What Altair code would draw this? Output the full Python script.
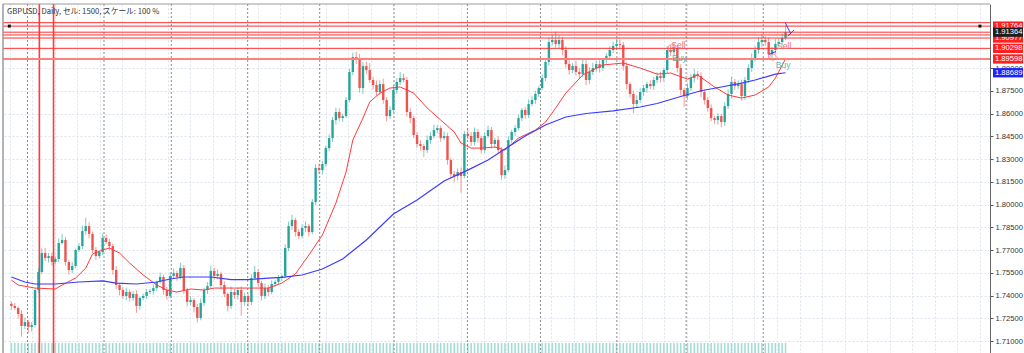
import altair as alt
import pandas as pd

# ---------------- data ----------------
first_open = 1.7345
close = [
    1.7331, 1.7318, 1.7278, 1.7199, 1.7225, 1.7192, 1.7205, 1.7436, 1.7555, 1.7680,
    1.7647, 1.7660, 1.7621, 1.7641, 1.7746, 1.7766, 1.7621, 1.7568, 1.7595, 1.7700,
    1.7726, 1.7825, 1.7858, 1.7806, 1.7700, 1.7660, 1.7687, 1.7779, 1.7753, 1.7726,
    1.7568, 1.7469, 1.7436, 1.7397, 1.7423, 1.7384, 1.7410, 1.7331, 1.7384, 1.7397,
    1.7423, 1.7430, 1.7449, 1.7489, 1.7522, 1.7436, 1.7397, 1.7529, 1.7548, 1.7522,
    1.7581, 1.7436, 1.7357, 1.7370, 1.7324, 1.7252, 1.7351, 1.7436, 1.7463, 1.7562,
    1.7529, 1.7542, 1.7469, 1.7410, 1.7331, 1.7423, 1.7403, 1.7436, 1.7357, 1.7397,
    1.7357, 1.7515, 1.7555, 1.7482, 1.7397, 1.7449, 1.7423, 1.7476, 1.7489, 1.7515,
    1.7529, 1.7713, 1.7858, 1.7898, 1.7819, 1.7792, 1.7845, 1.7858, 1.7819, 1.8016,
    1.8241, 1.8227, 1.8267, 1.8372, 1.8438, 1.8557, 1.8610, 1.8570, 1.8583, 1.8689,
    1.8874, 1.8972, 1.8953, 1.8768, 1.8913, 1.8887, 1.8821, 1.8788, 1.8742, 1.8794,
    1.8689, 1.8583, 1.8623, 1.8755, 1.8808, 1.8834, 1.8821, 1.8610, 1.8570, 1.8458,
    1.8399, 1.8386, 1.8359, 1.8425, 1.8452, 1.8491, 1.8504, 1.8438, 1.8452, 1.8293,
    1.8201, 1.8188, 1.8214, 1.8188, 1.8465, 1.8452, 1.8412, 1.8478, 1.8438, 1.8359,
    1.8452, 1.8491, 1.8399, 1.8425, 1.8359, 1.8194, 1.8227, 1.8425, 1.8478, 1.8504,
    1.8570, 1.8623, 1.8590, 1.8663, 1.8689, 1.8729, 1.8768, 1.8834, 1.8940, 1.9071,
    1.9085, 1.9058, 1.9085, 1.9019, 1.8926, 1.8887, 1.8913, 1.8874, 1.8860, 1.8926,
    1.8821, 1.8874, 1.8900, 1.8926, 1.8900, 1.8953, 1.8979, 1.9019, 1.9045, 1.9058,
    1.9052, 1.8913, 1.8794, 1.8729, 1.8663, 1.8689, 1.8742, 1.8768, 1.8794, 1.8781,
    1.8821, 1.8847, 1.8834, 1.8887, 1.9019, 1.9005, 1.9032, 1.8900, 1.8755, 1.8715,
    1.8768, 1.8834, 1.8860, 1.8847, 1.8742, 1.8689, 1.8636, 1.8570, 1.8557, 1.8583,
    1.8544, 1.8649, 1.8729, 1.8808, 1.8781, 1.8794, 1.8715, 1.8821, 1.8900, 1.8966,
    1.9019, 1.9071, 1.9085, 1.9071, 1.8992, 1.9019, 1.9058, 1.9071, 1.9098, 1.91364,
]
# wick lengths above / below the body, in pips
up_wick = [
    15, 20, 10, 25, 30, 15, 20, 10, 25, 30,
    35, 20, 25, 15, 30, 40, 20, 15, 25, 10,
    20, 35, 55, 25, 15, 20, 10, 30, 25, 20,
    15, 25, 10, 20, 30, 15, 20, 25, 10, 15,
    20, 15, 25, 10, 30, 15, 20, 25, 30, 15,
    35, 20, 15, 25, 10, 20, 30, 15, 25, 35,
    20, 30, 15, 25, 10, 35, 20, 15, 25, 20,
    15, 25, 40, 20, 15, 30, 20, 25, 15, 20,
    10, 25, 30, 35, 15, 20, 25, 30, 15, 20,
    25, 30, 20, 15, 25, 20, 30, 25, 15, 20,
    20, 30, 35, 40, 25, 30, 45, 20, 30, 25,
    35, 20, 25, 30, 25, 40, 30, 20, 25, 15,
    20, 25, 15, 30, 25, 35, 20, 15, 30, 20,
    15, 20, 25, 30, 20, 35, 25, 30, 20, 15,
    25, 30, 20, 15, 25, 20, 30, 25, 15, 20,
    25, 15, 20, 30, 25, 20, 15, 25, 20, 30,
    35, 55, 30, 20, 25, 30, 20, 35, 25, 30,
    25, 30, 35, 20, 25, 15, 20, 25, 30, 35,
    30, 20, 25, 15, 20, 30, 25, 20, 15, 25,
    20, 25, 30, 15, 25, 30, 35, 20, 25, 15,
    30, 25, 35, 20, 25, 15, 20, 25, 15, 20,
    15, 25, 30, 35, 20, 25, 30, 20, 25, 30,
    25, 35, 40, 25, 30, 20, 35, 25, 30, 45,
]
dn_wick = [
    25, 15, 30, 70, 20, 40, 30, 15, 20, 15,
    20, 30, 25, 15, 20, 10, 25, 30, 20, 15,
    15, 20, 25, 30, 20, 25, 15, 20, 15, 25,
    30, 25, 35, 20, 30, 25, 20, 45, 25, 15,
    20, 15, 25, 20, 10, 30, 25, 15, 20, 25,
    15, 25, 30, 20, 35, 30, 15, 20, 25, 15,
    25, 20, 30, 20, 35, 20, 25, 30, 90, 25,
    30, 20, 15, 25, 30, 20, 25, 15, 20, 15,
    20, 15, 20, 25, 30, 20, 15, 25, 30, 15,
    20, 25, 30, 15, 20, 25, 30, 20, 25, 15,
    15, 20, 25, 30, 40, 25, 20, 30, 25, 20,
    25, 35, 20, 15, 25, 20, 15, 30, 35, 20,
    25, 30, 45, 20, 25, 15, 20, 25, 15, 30,
    25, 40, 30, 110, 15, 20, 25, 20, 30, 25,
    20, 15, 30, 25, 20, 30, 25, 15, 20, 25,
    15, 20, 25, 20, 15, 25, 20, 15, 20, 25,
    20, 25, 30, 35, 25, 30, 20, 25, 30, 20,
    35, 25, 20, 25, 30, 20, 25, 15, 20, 25,
    20, 30, 35, 25, 60, 25, 20, 25, 30, 20,
    25, 20, 30, 25, 20, 25, 20, 30, 35, 70,
    25, 20, 30, 25, 35, 30, 25, 20, 25, 30,
    35, 25, 20, 30, 25, 20, 30, 25, 20, 25,
    20, 25, 30, 25, 35, 30, 25, 20, 25, 15,
]

red_ma_idx = [0, 2, 7, 13, 15, 19, 22, 24, 27, 29, 32, 35, 39, 43, 46, 49, 53, 57, 60, 66,
              72, 76, 80, 84, 88, 92, 96, 99, 101, 104, 106, 109, 112, 115, 119, 123, 127,
              131, 133, 136, 139, 143, 146, 150, 155, 158, 161, 164, 169, 175, 181, 186,
              191, 195, 200, 203, 208, 212, 216, 220, 224, 226, 229]
red_ma_val = [1.7502, 1.7469, 1.7449, 1.7443, 1.7469, 1.7515, 1.7581, 1.7674, 1.7700, 1.7713,
              1.7680, 1.7614, 1.7535, 1.7469, 1.7436, 1.7423, 1.7443, 1.7436, 1.7449, 1.7449,
              1.7449, 1.7449, 1.7482, 1.7542, 1.7667, 1.7799, 1.8010, 1.8214, 1.8425, 1.8570,
              1.8676, 1.8735, 1.8768, 1.8775, 1.8735, 1.8636, 1.8557, 1.8478, 1.8405, 1.8372,
              1.8372, 1.8379, 1.8359, 1.8438, 1.8491, 1.8544, 1.8636, 1.8735, 1.8854, 1.8920,
              1.8933, 1.8900, 1.8860, 1.8867, 1.8827, 1.8854, 1.8775, 1.8722, 1.8702, 1.8722,
              1.8775, 1.8834, 1.8960]
blue_ma_idx = [0, 4, 7, 13, 20, 27, 31, 37, 43, 47, 51, 59, 65, 70, 76, 80, 86, 92, 98, 105,
               113, 120, 128, 135, 141, 146, 152, 158, 164, 170, 178, 186, 191, 198, 204, 210,
               216, 220, 226, 229]
blue_ma_val = [1.7522, 1.7489, 1.7476, 1.7476, 1.7489, 1.7496, 1.7482, 1.7476, 1.7489, 1.7509,
               1.7522, 1.7522, 1.7505, 1.7505, 1.7515, 1.7519, 1.7535, 1.7575, 1.7641, 1.7766,
               1.7937, 1.8030, 1.8155, 1.8227, 1.8293, 1.8366, 1.8452, 1.8524, 1.8577, 1.8600,
               1.8617, 1.8643, 1.8666, 1.8712, 1.8750, 1.8775, 1.8801, 1.8821, 1.8860, 1.88689]

hline_prices = [1.9199, 1.91764, 1.91364, 1.9118, 1.90977, 1.90298]
hline_light = [1.89598]
vline_idx = [8.28, 12.47]
month_sep_idx = [4.77, 27.4, 47.3, 69.9, 91.2, 113.2, 134.9, 156.5, 179.1, 199.6, 222.4]
price_ticks = [1.71, 1.725, 1.74, 1.755, 1.77, 1.785, 1.80, 1.815, 1.83, 1.845, 1.86, 1.875, 1.89]

red_labels = [1.91764, 1.90977, 1.90298, 1.89598]
bid_label = [1.91364]
ma_label = [1.88689]
anchor_idx = [-0.6, 286.5]
anchor_price = [1.91764, 1.91764]

sell_idx = [197.3, 228.6]
sell_price = [1.9052, 1.9045]
buy_idx = [197.6, 228.3]
buy_price = [1.8966, 1.8920]
circle_idx = [195.2, 225.3]
circle_price = [1.9033, 1.8972]
# small blue arrow objects (segment id, bar position, price)
arrow_seg = [1, 1, 2, 2, 3, 3]
arrow_idx = [224.0, 226.2, 228.9, 230.6, 229.7, 231.5]
arrow_price = [1.8989, 1.9009, 1.9200, 1.9124, 1.9111, 1.9151]

title = "GBPUSD, Daily, セル: 1500, スケール: 100 %"

# ---------------- tables ----------------
n = len(close)
opens = [first_open] + close[:-1]
rows = []
for i in range(n):
    o, c = opens[i], close[i]
    rows.append({
        "idx": i, "open": o, "close": c,
        "high": max(o, c) + up_wick[i] / 10000.0,
        "low": min(o, c) - dn_wick[i] / 10000.0,
        "dir": "up" if c >= o else "down",
    })
candles = pd.DataFrame(rows)

red_ma = pd.DataFrame({"idx": red_ma_idx, "price": red_ma_val})
blue_ma = pd.DataFrame({"idx": blue_ma_idx, "price": blue_ma_val})
hl = pd.DataFrame({"price": hline_prices})
hl2 = pd.DataFrame({"price": hline_light})
vl = pd.DataFrame({"idx": vline_idx})
ms = pd.DataFrame({"idx": month_sep_idx})
sells = pd.DataFrame({"idx": sell_idx, "price": sell_price, "label": ["Sell"] * len(sell_idx)})
buys = pd.DataFrame({"idx": buy_idx, "price": buy_price, "label": ["Buy"] * len(buy_idx)})
circ = pd.DataFrame({"idx": circle_idx, "price": circle_price})
arrows = pd.DataFrame({"seg": arrow_seg, "idx": arrow_idx, "price": arrow_price})
anchors = pd.DataFrame({"idx": anchor_idx, "price": anchor_price})
lab_red = pd.DataFrame({"price": red_labels, "label": [f"{p:.5f}" for p in red_labels]})
lab_bid = pd.DataFrame({"price": bid_label, "label": [f"{p:.5f}" for p in bid_label]})
lab_ma = pd.DataFrame({"price": ma_label, "label": [f"{p:.5f}" for p in ma_label]})
ttl = pd.DataFrame({"t": [title]})

# ---------------- scales / axes ----------------
W, H = 987, 349
grid_x = [186.4 + 6.676 * k for k in range(-28, 16) if -1 <= 186.4 + 6.676 * k <= 288]
xscale = alt.Scale(domain=[-1, 288], nice=False, zero=False)
yscale = alt.Scale(domain=[1.70209, 1.93222], nice=False, zero=False)
xaxis = alt.Axis(values=grid_x, grid=True, gridColor="#dde3ec", gridDash=[2, 2], gridWidth=1,
                 labels=False, ticks=False, domain=False, title="")
yaxis = alt.Axis(orient="right", values=price_ticks, format=".5f", grid=True, gridColor="#dde3ec",
                 gridDash=[2, 2], gridWidth=1, tickSize=3, tickColor="#555", domainColor="#666",
                 labelFontSize=7.6, labelFont="Liberation Sans", labelColor="#333", labelPadding=2,
                 title="", labelOverlap=False)


def X(field="idx"):
    return alt.X(field, type="quantitative", scale=xscale, axis=xaxis)


def Y(field="price"):
    return alt.Y(field, type="quantitative", scale=yscale, axis=yaxis)


color = alt.Color("dir:N", scale=alt.Scale(domain=["up", "down"], range=["#26a69a", "#ef5350"]),
                  legend=None)

volume = alt.Chart(candles).mark_rule(strokeWidth=1.6).encode(
    x=X(), y=alt.value(339), y2=alt.value(H), color=alt.value("#a6dcd6"))
months = alt.Chart(ms).mark_rule(strokeDash=[2, 2], strokeWidth=1).encode(
    x=X(), y=alt.value(0), y2=alt.value(H), color=alt.value("#8c8c8c"))
vlines = alt.Chart(vl).mark_rule(strokeWidth=1.6).encode(
    x=X(), y=alt.value(0), y2=alt.value(H), color=alt.value("#ff3a3a"))
wicks = alt.Chart(candles).mark_rule(strokeWidth=1, opacity=0.6).encode(
    x=X(), y=Y("low"), y2=alt.Y2("high"), color=color)
bodies = alt.Chart(candles).mark_bar(size=2.4).encode(
    x=X(), y=Y("open"), y2=alt.Y2("close"), color=color)
red_line = alt.Chart(red_ma).mark_line(strokeWidth=1).encode(
    x=X(), y=Y(), color=alt.value("#ff3a3a"))
blue_line = alt.Chart(blue_ma).mark_line(strokeWidth=1.2).encode(
    x=X(), y=Y(), color=alt.value("#3b3bff"))
hlines = alt.Chart(hl).mark_rule(strokeWidth=1).encode(
    y=Y(), x=alt.value(0), x2=alt.value(W), color=alt.value("#ff3030"))
hlines2 = alt.Chart(hl2).mark_rule(strokeWidth=2).encode(
    y=Y(), x=alt.value(0), x2=alt.value(W), color=alt.value("#ff8080"))
sell_txt = alt.Chart(sells).mark_text(fontSize=8.5, font="Liberation Sans", align="center",
                                      baseline="middle").encode(
    x=X(), y=Y(), text="label:N", color=alt.value("#f07272"))
buy_txt = alt.Chart(buys).mark_text(fontSize=8.5, font="Liberation Sans", align="center",
                                    baseline="middle").encode(
    x=X(), y=Y(), text="label:N", color=alt.value("#5cb8ab"))
circles = alt.Chart(circ).mark_point(shape="circle", size=40, strokeWidth=1,
                                     filled=False).encode(x=X(), y=Y(), color=alt.value("#f07272"))
arrow_lines = alt.Chart(arrows).mark_line(strokeWidth=1).encode(
    x=X(), y=Y(), detail="seg:N", color=alt.value("#3b3bff"))
anchor_pts = alt.Chart(anchors).mark_square(size=9, opacity=1).encode(
    x=X(), y=Y(), color=alt.value("#111111"))

box_shape = "M0,-0.31H2V0.31H0Z"
box_red = alt.Chart(lab_red).mark_point(shape=box_shape, size=900, filled=True, opacity=1).encode(
    x=alt.value(W + 3), y=Y(), color=alt.value("#ff1f1f"))
txt_red = alt.Chart(lab_red).mark_text(fontSize=7.6, font="Liberation Sans",
                                       align="left", baseline="middle").encode(
    x=alt.value(W + 5), y=Y(), text="label:N", color=alt.value("#ffffff"))
box_bid = alt.Chart(lab_bid).mark_point(shape=box_shape, size=900, filled=True, opacity=1).encode(
    x=alt.value(W + 3), y=Y(), color=alt.value("#1e1e1e"))
txt_bid = alt.Chart(lab_bid).mark_text(fontSize=7.6, font="Liberation Sans",
                                       align="left", baseline="middle").encode(
    x=alt.value(W + 5), y=Y(), text="label:N", color=alt.value("#ffffff"))
box_ma = alt.Chart(lab_ma).mark_point(shape=box_shape, size=900, filled=True, opacity=1).encode(
    x=alt.value(W + 3), y=Y(), color=alt.value("#1f1fff"))
txt_ma = alt.Chart(lab_ma).mark_text(fontSize=7.6, font="Liberation Sans",
                                     align="left", baseline="middle").encode(
    x=alt.value(W + 5), y=Y(), text="label:N", color=alt.value("#ffffff"))

border_left = alt.Chart(ttl).mark_rule(strokeWidth=1.5).encode(
    x=alt.value(0), y=alt.value(0), y2=alt.value(H), color=alt.value("#9a9a9a"))
border_top = alt.Chart(ttl).mark_rule(strokeWidth=1).encode(
    y=alt.value(0), x=alt.value(0), x2=alt.value(W), color=alt.value("#9a9a9a"))
title_txt = alt.Chart(ttl).mark_text(align="left", baseline="middle", fontSize=7.7,
                                     font="Noto Sans CJK JP").encode(
    x=alt.value(4), y=alt.value(8), text="t:N", color=alt.value("#333333"))

chart = alt.layer(
    volume, months, vlines, wicks, bodies, red_line, blue_line, hlines, hlines2,
    circles, sell_txt, buy_txt, arrow_lines, anchor_pts,
    box_red, txt_red, box_bid, txt_bid, box_ma, txt_ma,
    border_left, border_top, title_txt,
).properties(
    width=W, height=H,
    padding={"left": 3, "top": 4, "right": 34, "bottom": 0},
    autosize=alt.AutoSizeParams(type="none"),
    background="white",
).configure_view(stroke="transparent")

chart.save("out.html", embed_options={"renderer": "svg", "actions": False})
